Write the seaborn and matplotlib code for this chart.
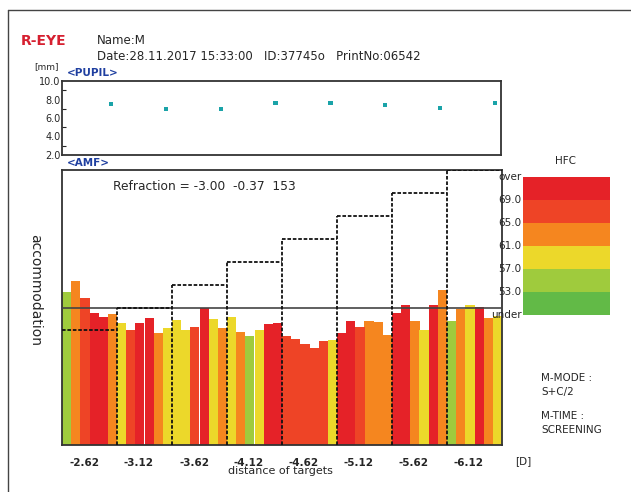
import numpy as np
import pandas as pd
import matplotlib
matplotlib.use('Agg')
import matplotlib.pyplot as plt
from matplotlib.colors import ListedColormap
from matplotlib.lines import Line2D
import seaborn as sns

sns.set_style('white')
plt.rcParams['font.family'] = ['DejaVu Sans']

# ---- data ----
targets = ['-2.62', '-3.12', '-3.62', '-4.12', '-4.62', '-5.12', '-5.62', '-6.12']
target_levels = [2.5, 3.0, 3.5, 4.0, 4.5, 5.0, 5.5, 6.0]   # dashed step (D)
refraction = 3.00
pupil = [7.5, 7.0, 7.0, 7.6, 7.6, 7.4, 7.1, 7.6]           # mm

# accommodation response, 6 samples per target
amf = [3.34, 3.58, 3.21, 2.89, 2.80, 2.86,
       2.67, 2.50, 2.67, 2.78, 2.44, 2.56,
       2.73, 2.51, 2.57, 2.98, 2.75, 2.56,
       2.80, 2.46, 2.37, 2.50, 2.63, 2.67,
       2.37, 2.32, 2.21, 2.11, 2.26, 2.30,
       2.45, 2.70, 2.57, 2.71, 2.69, 2.40,
       2.88, 3.06, 2.70, 2.51, 3.06, 3.39,
       2.71, 2.97, 3.06, 3.01, 2.77, 2.82]
# HFC class of each sample
hfc = ['LG', 'O', 'RO', 'R', 'R', 'O',
       'Y', 'RO', 'R', 'R', 'O', 'Y',
       'Y', 'Y', 'RO', 'R', 'Y', 'O',
       'Y', 'O', 'LG', 'Y', 'R', 'R',
       'RO', 'RO', 'RO', 'RO', 'RO', 'Y',
       'R', 'R', 'RO', 'O', 'O', 'O',
       'R', 'R', 'O', 'Y', 'R', 'O',
       'LG', 'O', 'Y', 'R', 'O', 'Y']

hfc_classes = ['R', 'RO', 'O', 'Y', 'LG', 'G']   # top to bottom
hfc_colors = ['#e52228', '#ee4426', '#f5861f', '#ecd82a', '#9fcb3d', '#62ba47']
hfc_labels = ['over', '69.0', '65.0', '61.0', '57.0', '53.0', 'under']

n_per = 6
palette = dict(zip(hfc_classes, hfc_colors))
df = pd.DataFrame({'idx': np.arange(len(amf)), 'amf': amf, 'hfc': hfc})

W, H = 631, 492
fig = plt.figure(figsize=(W / 100, H / 100), dpi=100)


def box(l, t, r, b):
    return [l / W, 1 - b / H, (r - l) / W, (b - t) / H]


def ftext(x, y, s, **kw):
    fig.text(x / W, 1 - y / H, s, **kw)


# page frame
fig.add_artist(Line2D([8 / W, 8 / W], [0, 1 - 10 / H], color='#444444', lw=1.0))
fig.add_artist(Line2D([8 / W, 1], [1 - 10 / H, 1 - 10 / H], color='#444444', lw=1.0))

# header
ftext(21, 41, 'R-EYE', color='#d62030', fontsize=10, fontweight='bold', va='center')
ftext(97, 40, 'Name:M', fontsize=8.5, va='center')
ftext(97, 57, 'Date:28.11.2017 15:33:00   ID:37745o   PrintNo:06542', fontsize=8.5, va='center')
ftext(34, 67, '[mm]', fontsize=6.5, va='center')
ftext(67, 73, '<PUPIL>', color='#1f3fa0', fontsize=7.5, fontweight='bold', va='center')
ftext(67, 163, '<AMF>', color='#1f3fa0', fontsize=7.5, fontweight='bold', va='center')

# pupil panel
axp = fig.add_axes(box(62, 81, 501, 155))
px = [(g + 1) * n_per - 0.5 - 0.65 for g in range(len(pupil))]
sns.scatterplot(x=px, y=pupil, ax=axp, color='#1aa3a8', marker='s', s=9,
                edgecolor='none')
axp.set_xlim(-0.5, len(amf) - 0.5)
axp.set_ylim(2, 10)
axp.set_yticks([2, 4, 6, 8, 10])
axp.set_yticklabels(['2.0', '4.0', '6.0', '8.0', '10.0'], fontsize=7)
axp.set_yticks(np.arange(2, 10, 1), minor=True)
axp.set_xticks([])
axp.tick_params(axis='y', which='major', direction='in', length=5, width=1.0, pad=1)
axp.tick_params(axis='y', which='minor', direction='in', length=3, width=0.8, left=True)
for s in axp.spines.values():
    s.set_color('#333333')
    s.set_linewidth(1.3)

# AMF panel
ax = fig.add_axes(box(62, 170, 502, 445))
sns.barplot(data=df, x='idx', y='amf', hue='hfc', palette=palette, dodge=False,
            width=1.0, saturation=1, legend=False, ax=ax, edgecolor='none',
            linewidth=0, native_scale=True)
ax.set_xlim(-0.5, len(amf) - 0.5)
ax.set_ylim(0, 6)
ax.axhline(refraction, color='#444444', lw=1.2, zorder=5)
for g, lev in enumerate(target_levels):
    ax.hlines(lev, g * n_per - 0.5, (g + 1) * n_per - 0.5, colors='#111111',
              linestyles=(0, (2, 1)), lw=1.3, zorder=6)
    if g > 0:
        ax.vlines(g * n_per - 0.5, 0, max(lev, target_levels[g - 1]), colors='#111111',
                  linestyles=(0, (2, 1)), lw=1.3, zorder=6)
ax.set_xticks([g * n_per + 2.5 - 0.6 for g in range(len(targets))])
ax.set_xticklabels(targets, fontsize=7.5, fontweight='bold')
ax.set_yticks([])
ax.set_xlabel('')
ax.set_ylabel('')
ax.tick_params(axis='x', length=0, pad=9)
for s in ax.spines.values():
    s.set_color('#333333')
    s.set_linewidth(1.3)
ax.text(0.117, 0.94, 'Refraction = -3.00  -0.37  153', transform=ax.transAxes,
        fontsize=8.8, va='center')

ftext(515, 461, '[D]', fontsize=7.5, va='center')
ftext(280, 471, 'distance of targets', fontsize=8, ha='center', va='center')
ftext(35, 290, 'accommodation', fontsize=10, rotation=-90, ha='center', va='center')

# HFC scale
ftext(566, 161, 'HFC', fontsize=7.5, ha='center', va='center')
axc = fig.add_axes(box(523, 177, 610, 315))
sns.heatmap(np.arange(len(hfc_colors)).reshape(-1, 1), cmap=ListedColormap(hfc_colors),
            cbar=False, ax=axc, xticklabels=False)
axc.set_yticks(np.arange(len(hfc_labels)))
axc.set_yticklabels(hfc_labels, fontsize=7.5, rotation=0)
axc.tick_params(axis='y', length=0, pad=1)

ftext(541, 378, 'M-MODE :', fontsize=7.5, va='center')
ftext(541, 392, 'S+C/2', fontsize=7.5, va='center')
ftext(541, 416, 'M-TIME :', fontsize=7.5, va='center')
ftext(541, 430, 'SCREENING', fontsize=7.5, va='center')

fig.savefig('out.png', dpi=100, facecolor='white')
